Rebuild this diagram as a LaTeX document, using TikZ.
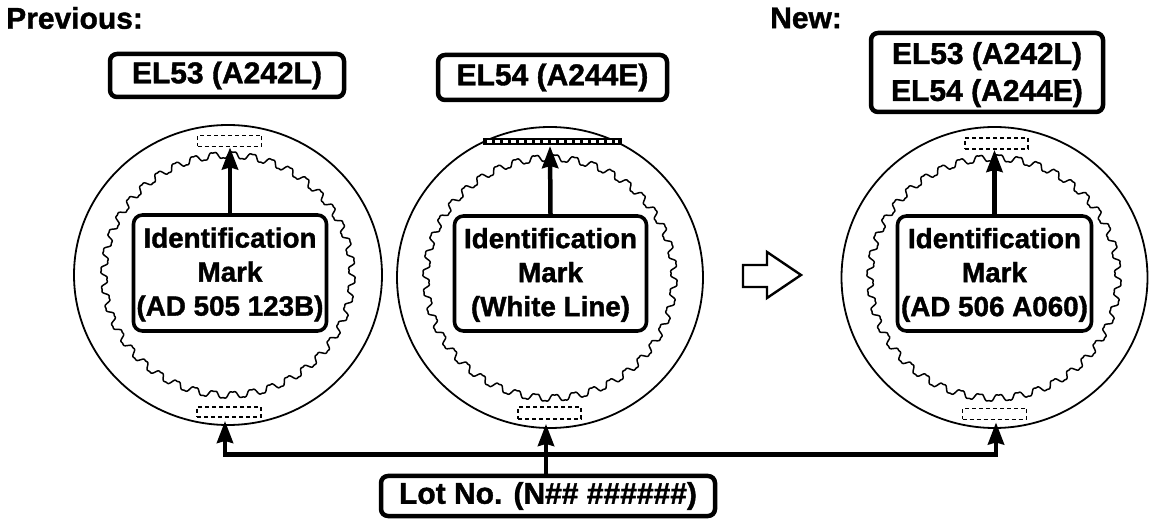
\documentclass[tikz,border=0pt]{standalone}
\usepackage{fontspec}
\setmainfont{Liberation Sans}[BoldFont={Liberation Sans Bold},BoldFeatures={FakeBold=1.3}]
\usetikzlibrary{arrows.meta,positioning,shapes.geometric}
\tikzset{
  x=1pt,y=-1pt,
  declare function={gs(\t)=sin(40*\t); gw(\t)=3.6*gs(\t)+0.8*(3*gs(\t)-4*gs(\t)*gs(\t)*gs(\t));},
  label box/.style={draw,line width=4.5pt,rounded corners=7pt,inner sep=0pt,font=\fontsize{30}{37}\selectfont\bfseries,align=center},
  id box/.style={draw,line width=3.6pt,rounded corners=9pt,inner sep=0pt,font=\fontsize{27.8}{34}\selectfont\bfseries,align=center},
  mark box/.style={draw,dashed,dash pattern=on 4pt off 3pt,line width=1.8pt,inner sep=0pt},
  ring/.style={draw,line width=1.8pt,ellipse,inner sep=0pt},
  gear/.style={line width=1.5pt,line join=round},
  arr/.style={line width=4.5pt,-{Stealth[length=22pt,width=16pt,inset=2pt]}},
  bus/.style={line width=5pt},
  head/.style={font=\fontsize{30}{34}\selectfont\bfseries,anchor=west,inner sep=0pt},
  hollow/.style={draw,line width=2.4pt,line join=miter,fill=white}
}
\begin{document}
\begin{tikzpicture}
\useasboundingbox (0,0) rectangle (1168,526);
\fill[white] (0,0) rectangle (1168,526);
\node[head] (prev) at (6,18) {Previous:};
\node[head] (new) at (770,18) {New:};
% top labels
\node[label box,minimum width=234pt,minimum height=43pt] (l1) at (227,75.5) {EL53 (A242L)};
\node[label box,minimum width=229pt,minimum height=45pt] (l2) at (552.5,77.5) {EL54 (A244E)};
\node[label box,minimum width=232pt,minimum height=79pt] (l3) at (987,72.5) {\rule{0pt}{26pt}EL53 (A242L)\\EL54 (A244E)};
% rings
\node[ring,minimum width=308pt,minimum height=300pt] (r1) at (228,275) {};
\node[ring,minimum width=306pt,minimum height=301pt] (r2) at (550,277.5) {};
\node[ring,minimum width=306pt,minimum height=301pt] (r3) at (994.5,277.5) {};
% gears
\draw[gear] plot[domain=0:360,samples=900] ({228+(124+gw(\x))*cos(\x)},{275+(120+gw(\x))*sin(\x)}) -- cycle;
\draw[gear] plot[domain=0:360,samples=900] ({550+(124+gw(\x))*cos(\x)},{278+(120+gw(\x))*sin(\x)}) -- cycle;
\draw[gear] plot[domain=0:360,samples=900] ({994+(124+gw(\x))*cos(\x)},{278+(120+gw(\x))*sin(\x)}) -- cycle;
% marks
\node[mark box,minimum width=64pt,minimum height=11pt] (mt1) at (229.5,141) {};
\node[mark box,minimum width=64pt,minimum height=10pt] (mb1) at (229,412) {};
\node[mark box,minimum width=63pt,minimum height=12pt] (mb2) at (549.5,413) {};
\node[mark box,minimum width=63pt,minimum height=11pt] (mt3) at (996.5,143.5) {};
\node[mark box,minimum width=64pt,minimum height=11pt] (mb3) at (994.5,414) {};
% white line
\coordinate (wl) at (550,146);
\fill (483,138) rectangle (622,145);
\draw[white,line width=2.4pt,dash pattern=on 5pt off 3pt] (487,141.5) -- (618,141.5);
% id boxes
\node[id box,minimum width=193pt,minimum height=116pt] (b1) at (230,273) {\rule{0pt}{23pt}Identification\\Mark\\(AD 505 123B)};
\node[id box,minimum width=192pt,minimum height=115pt] (b2) at (550.5,273.5) {\rule{0pt}{23pt}Identification\\Mark\\(White Line)};
\node[id box,minimum width=194pt,minimum height=115pt] (b3) at (994.5,273.5) {\rule{0pt}{23pt}Identification\\Mark\\(AD 506 A060)};
\draw[arr] (b1.north) -- (b1.north |- mt1.south);
\draw[arr] (b2.north) -- (wl);
\draw[arr] (b3.north) -- (b3.north |- mt3.south);
% hollow arrow
\draw[hollow] (743,265) -- (767,265) -- (767,252) -- (801,275) -- (767,298) -- (767,287) -- (743,287) -- cycle;
% lot
\node[label box,minimum width=334pt,minimum height=40pt] (lot) at (548,496) {Lot No. (N\#\# \#\#\#\#\#\#)};
\coordinate (bl) at (225,455);
\coordinate (bm) at (546,455);
\coordinate (br) at (996,455);
\draw[bus,line cap=butt] ([xshift=-2.25pt]bl) -- ([xshift=2.25pt]br);
\draw[line width=3.5pt] (bm |- lot.north) -- (bm);
\draw[arr,shorten >=3pt] (bl) -- (bl |- mb1.south);
\draw[arr,shorten >=4pt] (bm) -- (bm |- mb2.south);
\draw[arr,shorten >=2pt] (br) -- (br |- mb3.south);
\end{tikzpicture}
\end{document}
